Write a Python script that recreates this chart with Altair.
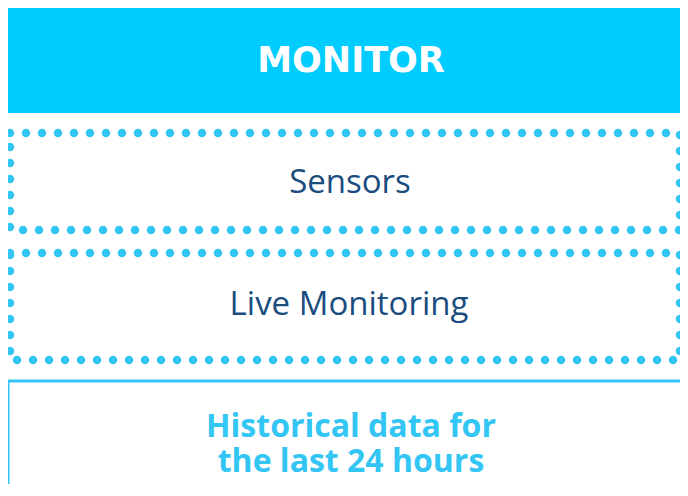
import altair as alt
import pandas as pd

# Diagram content
header_label = ["MONITOR"]
section_labels = ["Sensors", "Live Monitoring"]
footer_lines = ["Historical data for", "the last 24 hours"]

# Layout (image pixel coordinates)
header_box = {"x": [6], "x2": [700], "y": [7], "y2": [113]}
dotted_boxes = {"x": [10, 10], "x2": [680, 680], "y": [133, 253], "y2": [230, 360]}
footer_box = {"x": [8], "x2": [720], "y": [381], "y2": [540]}
header_text_pos = {"x": [351], "y": [72]}
section_text_pos = {"x": [350, 349], "y": [193, 315]}
footer_text_pos = {"x": [351], "y": [437]}

# visible page area: x 8..680, y 8..484
XS = alt.Scale(domain=[8, 680], nice=False, zero=False)
YS = alt.Scale(domain=[484, 8], nice=False, zero=False)


def X(f="x"):
    return alt.X(f"{f}:Q", scale=XS, axis=None)


def Y(f="y"):
    return alt.Y(f"{f}:Q", scale=YS, axis=None)


header = alt.Chart(pd.DataFrame(header_box)).mark_rect(
    color="#00CCFF", clip=True
).encode(x=X(), x2="x2:Q", y=Y(), y2="y2:Q")

dotted = alt.Chart(pd.DataFrame(dotted_boxes)).mark_rect(
    fill=None, fillOpacity=0, stroke="#33C6F4", strokeWidth=8.5,
    strokeDash=[0, 16], strokeCap="round", clip=True
).encode(x=X(), x2="x2:Q", y=Y(), y2="y2:Q")

footer = alt.Chart(pd.DataFrame(footer_box)).mark_rect(
    fill=None, fillOpacity=0, stroke="#33C6F4", strokeWidth=3, clip=True
).encode(x=X(), x2="x2:Q", y=Y(), y2="y2:Q")

htext = alt.Chart(pd.DataFrame({**header_text_pos, "t": header_label})).mark_text(
    font="DejaVu Sans", fontWeight="bold", fontSize=35, color="white",
    align="center", baseline="alphabetic"
).encode(x=X(), y=Y(), text="t:N")

stext = alt.Chart(pd.DataFrame({**section_text_pos, "t": section_labels})).mark_text(
    font="Open Sans", fontSize=33, color="#1A4D7E",
    align="center", baseline="alphabetic"
).encode(x=X(), y=Y(), text="t:N")

ftext = alt.Chart(pd.DataFrame({**footer_text_pos, "t": ["\n".join(footer_lines)]})).mark_text(
    font="Open Sans", fontWeight="bold", fontSize=32, color="#33C6F4",
    align="center", baseline="alphabetic", lineBreak="\n", lineHeight=35
).encode(x=X(), y=Y(), text="t:N")

chart = alt.layer(header, dotted, footer, htext, stext, ftext).properties(
    width=672, height=476, padding=0,
    autosize=alt.AutoSizeParams(type="none"),
    background="white"
).configure_view(stroke=None)

chart.save("out.html", embed_options={"renderer": "svg", "actions": False})
